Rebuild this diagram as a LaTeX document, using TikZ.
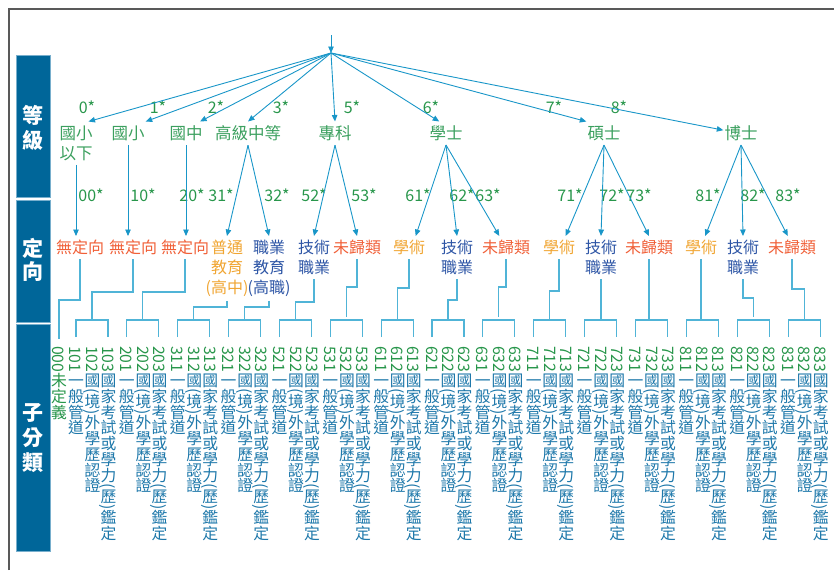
\documentclass[tikz,border=0pt]{standalone}
\usepackage{graphicx}
\usepackage{fontspec}
\setmainfont{Noto Sans CJK TC}
\usetikzlibrary{arrows.meta}
\definecolor{lvgreen}{RGB}{40,150,75}
\definecolor{lvlight}{RGB}{60,160,95}
\definecolor{arrowblue}{RGB}{25,150,200}
\definecolor{treeblue}{RGB}{80,180,215}
\definecolor{noneorange}{RGB}{240,95,55}
\definecolor{acadamber}{RGB}{240,165,50}
\definecolor{techblue}{RGB}{45,85,165}
\definecolor{subblue}{RGB}{30,120,170}
\definecolor{bandblue}{RGB}{0,102,153}
\definecolor{bandedge}{RGB}{120,175,205}
\newcommand\vchar[1]{\ifnum`#1<128 #1\else\rotatebox[origin=c]{90}{\rule[-.12em]{0pt}{1em}#1}\fi}
\def\vloop#1{\ifx#1\relax\else\vchar{#1}\expandafter\vloop\fi}
\newcommand\vtext[1]{\vloop#1\relax}

\begin{document}
\begin{tikzpicture}[x=1pt, y=-1pt,
    arr/.style={draw=arrowblue, line width=0.9pt, -{Triangle[length=6.5pt,width=5.5pt]}},
    tree/.style={draw=treeblue, line width=1.1pt},
    band/.style={fill=bandblue, draw=bandedge, line width=0.8pt},
    bandtxt/.style={text=white, font=\bfseries\fontsize{21}{25}\selectfont, align=center},
    lv/.style={text=lvlight, font=\fontsize{16.5}{20}\selectfont, align=center, anchor=north, inner xsep=1pt, inner ysep=4pt},
    ori/.style={font=\fontsize{16}{20}\selectfont, align=center, anchor=north, inner xsep=1pt, inner ysep=4pt},
    star/.style={text=lvgreen, font=\fontsize{16}{18}\selectfont, inner sep=0pt},
    subcol/.style={rotate=-90, anchor=west, inner sep=0pt, text=subblue, font=\fontsize{15.8}{16}\selectfont}]
    \useasboundingbox (0,0) rectangle (834,570);
    \draw [gray!70!black, line width=1.3pt] (9,570) -- (9,9) -- (834,9);

    \draw [band] (16,55) rectangle (50.5,197);
    \draw [band] (16,200) rectangle (50.5,322.5);
    \draw [band] (16,324.5) rectangle (50.5,551);
    \node [bandtxt] (tlevel) at (33,127.5) {等\\級};
    \node [bandtxt, font=\bfseries\fontsize{21}{23}\selectfont] (torient) at (33,260) {定\\向};
    \node [bandtxt] (tsub) at (33,438) {子\\分\\類};

    \coordinate (top) at (331,35);
    \coordinate (root) at (331,53);
    \draw [arr] (top) -- (root);

    \node [lv] (l0) at (76,121.5) {國小\\以下};
    \node [lv] (l1) at (128,121.5) {國小};
    \node [lv] (l2) at (186,121.5) {國中};
    \node [lv] (l3) at (248,121.5) {高級中等};
    \node [lv] (l5) at (335,121.5) {專科};
    \node [lv] (l6) at (446,121.5) {學士};
    \node [lv] (l7) at (604,121.5) {碩士};
    \node [lv] (l8) at (741,121.5) {博士};

    \node [star] (c0) at (87,107) {0*};
    \node [star] (c1) at (158,107) {1*};
    \node [star] (c2) at (216,107) {2*};
    \node [star] (c3) at (281,107) {3*};
    \node [star] (c5) at (352,107) {5*};
    \node [star] (c6) at (431,107) {6*};
    \node [star] (c7) at (554,107) {7*};
    \node [star] (c8) at (619,107) {8*};

    \draw [arr] (root) -- (l0.60);
    \draw [arr] (root) -- (l1.north east);
    \draw [arr] (root) -- (l2.40);
    \draw [arr] (root) -- (l3.north);
    \draw [arr] (root) -- (l5.north);
    \draw [arr] (root) -- (l6.120);
    \draw [arr] (root) -- (l7.north west);
    \draw [arr] (root) -- (l8.170);

    \node [ori, text=noneorange] (d00) at (80,236) {無定向};
    \node [ori, text=noneorange] (d10) at (133,236) {無定向};
    \node [ori, text=noneorange] (d20) at (185,236) {無定向};
    \node [ori, text=acadamber] (d31) at (227,236) {普通\\教育\\(高中)};
    \node [ori, text=techblue] (d32) at (269,236) {職業\\教育\\(高職)};
    \node [ori, text=techblue] (d52) at (314,236) {技術\\職業};
    \node [ori, text=noneorange] (d53) at (357,236) {未歸類};
    \node [ori, text=acadamber] (d61) at (409,236) {學術};
    \node [ori, text=techblue] (d62) at (457,236) {技術\\職業};
    \node [ori, text=noneorange] (d63) at (506,236) {未歸類};
    \node [ori, text=acadamber] (d71) at (559,236) {學術};
    \node [ori, text=techblue] (d72) at (601,236) {技術\\職業};
    \node [ori, text=noneorange] (d73) at (649,236) {未歸類};
    \node [ori, text=acadamber] (d81) at (701,236) {學術};
    \node [ori, text=techblue] (d82) at (743,236) {技術\\職業};
    \node [ori, text=noneorange] (d83) at (792,236) {未歸類};

    \node [star] (c00) at (91,195) {00*};
    \node [star] (c10) at (143,195) {10*};
    \node [star] (c20) at (192,195) {20*};
    \node [star] (c31) at (221,195) {31*};
    \node [star] (c32) at (277,195) {32*};
    \node [star] (c52) at (314,195) {52*};
    \node [star] (c53) at (364,195) {53*};
    \node [star] (c61) at (418,195) {61*};
    \node [star] (c62) at (462,195) {62*};
    \node [star] (c63) at (488,195) {63*};
    \node [star] (c71) at (570,195) {71*};
    \node [star] (c72) at (612,195) {72*};
    \node [star] (c73) at (639,195) {73*};
    \node [star] (c81) at (708,195) {81*};
    \node [star] (c82) at (753,195) {82*};
    \node [star] (c83) at (788,195) {83*};

    \draw [arr] (l0.south) -- (l0.south |- d00.north);
    \draw [arr] (l1.south) -- (l1.south |- d10.north);
    \draw [arr] (l2.south) -- (l2.south |- d20.north);
    \draw [arr] (l3.south) -- (d31.north);
    \draw [arr] (l3.south) -- (d32.north);
    \draw [arr] (l5.south) -- (d52.north);
    \draw [arr] (l5.south) -- (d53.north);
    \draw [arr] (l6.south) -- (d61.60);
    \draw [arr] (l6.south) -- (d62.north);
    \draw [arr] (l6.south) -- (d63.120);
    \draw [arr] (l7.south) -- (d71.60);
    \draw [arr] (l7.south) -- (d72.north);
    \draw [arr] (l7.south) -- (d73.north);
    \draw [arr] (l8.south) -- (d81.70);
    \draw [arr] (l8.south) -- (d82.north);
    \draw [arr] (l8.south) -- (d83.110);

    \node [subcol, text=lvgreen] (s000) at (59,346) {\vtext{000未定義}};
    \foreach \i/\gc in {0/10,1/20,2/31,3/32,4/52,5/53,6/61,7/62,8/63,9/71,10/72,11/73,12/81,13/82,14/83}{
        \pgfmathsetmacro\xa{76+50.86*\i}
        \node [subcol] (s\gc1) at (\xa,346) {\textcolor{lvgreen}{\gc1}\vtext{一般管道}};
        \node [subcol] (s\gc2) at (\xa+16,346) {\textcolor{lvgreen}{\gc2}\vtext{國(境)外學歷認證}};
        \node [subcol] (s\gc3) at (\xa+32,346) {\textcolor{lvgreen}{\gc3}\vtext{國家考試或學力(歷)鑑定}};
        \coordinate (b\gc) at (\xa+16,320);
        \draw [tree, shorten <=9pt, shorten >=9pt] (s\gc1.west) -- (s\gc1.west |- b\gc) -- (s\gc3.west |- b\gc) -- (s\gc3.west);
    }

    \draw [tree, shorten >=7pt] (d00.south) -- (d00.south |- 0,300) -| (s000.west);
    \draw [tree] (d10.south) -- (d10.south |- 0,292) -| (b10);
    \draw [tree] (d20.south) -- (d20.south |- 0,292) -| (b20);
    \draw [tree] (d31.south) -- (d31.south |- 0,307) -| (b31);
    \draw [tree] (d32.south) -- (d32.south |- 0,307) -| (b32);
    \draw [tree] (d52.south) -- (d52.south |- 0,302) -| (b52);
    \draw [tree, shorten >=3pt] (d53.south) -- (d53.south |- 0,287) -| (b53);
    \draw [tree] (d61.south) -- (d61.south |- 0,288) -| (b61);
    \draw [tree] (d62.south) -- (d62.south |- 0,300) -| (b62);
    \draw [tree, shorten >=3pt] (d63.south) -- (d63.south |- 0,287) -| (b63);
    \draw [tree] (d71.south) -- (d71.south |- 0,291) -| (b71);
    \draw [tree] (d72.south) -- (d72.south |- b72);
    \draw [tree] (d73.south) -- (d73.south |- b73);
    \draw [tree] (d81.south) -- (d81.south |- b81);
    \draw [tree, shorten >=3pt] (d82.south) -- (d82.south |- 0,298) -| (b82);
    \draw [tree] (d83.south) -- (d83.south |- 0,289) -| (b83);
\end{tikzpicture}
\end{document}
